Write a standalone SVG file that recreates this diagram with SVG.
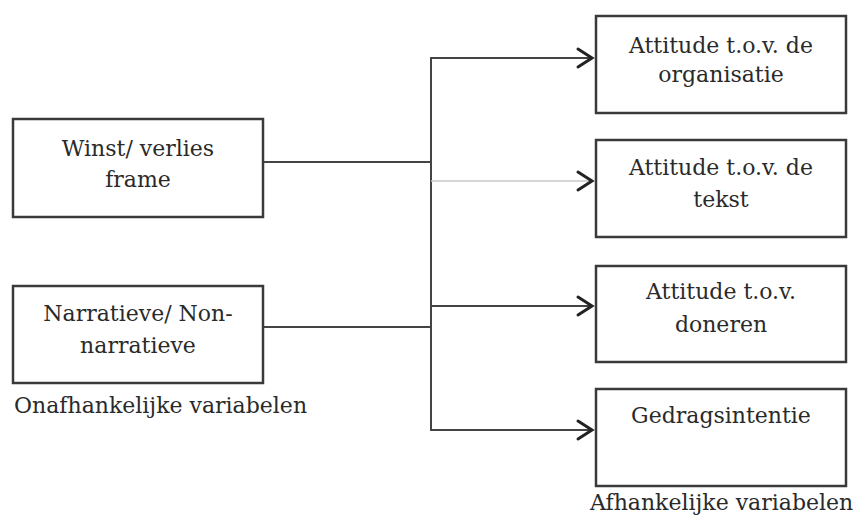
<svg xmlns="http://www.w3.org/2000/svg" width="854" height="515" viewBox="0 0 854 515">
<style>
.box{fill:#fff;stroke:#3a3a3a;stroke-width:2.5}
.t{font-family:"DejaVu Serif","Liberation Serif",serif;font-size:22px;fill:#2a2a2a;text-anchor:middle}
.lbl{font-family:"DejaVu Serif","Liberation Serif",serif;font-size:22px;fill:#2a2a2a}
.ln{fill:none;stroke:#444;stroke-width:2}
.lt{fill:none;stroke:#c8c8c8;stroke-width:1.5}
.ah{fill:none;stroke:#222;stroke-width:3;stroke-linecap:round;stroke-linejoin:miter}
</style>
<rect width="854" height="515" fill="#fff"/>
<g id="connectors">
<line class="ln" x1="263" y1="162" x2="431" y2="162"/>
<line class="ln" x1="263" y1="327" x2="431" y2="327"/>
<line class="ln" x1="431" y1="57" x2="431" y2="431" stroke="#777"/>
<line class="ln" x1="430" y1="58" x2="592" y2="58"/>
<line class="lt" x1="431" y1="181" x2="592" y2="181"/>
<line class="ln" x1="430" y1="306" x2="592" y2="306"/>
<line class="ln" x1="430" y1="430" x2="592" y2="430"/>
<polyline class="ah" points="578,49 592,58 578,67"/>
<polyline class="ah" points="578,172 592,181 578,190"/>
<polyline class="ah" points="578,297 592,306 578,315"/>
<polyline class="ah" points="578,421 592,430 578,439"/>
</g>
<g id="winst">
<rect class="box" x="13" y="119" width="250" height="98"/>
<text class="t" x="138" y="156">Winst/ verlies</text>
<text class="t" x="138" y="187">frame</text>
</g>
<g id="narratieve">
<rect class="box" x="13" y="286" width="250" height="97"/>
<text class="t" x="138" y="321">Narratieve/ Non-</text>
<text class="t" x="138" y="353">narratieve</text>
</g>
<text id="onafhankelijke" class="lbl" x="14" y="413">Onafhankelijke variabelen</text>
<g id="att-organisatie">
<rect class="box" x="596" y="16" width="250" height="97"/>
<text class="t" x="721" y="53">Attitude t.o.v. de</text>
<text class="t" x="721" y="82">organisatie</text>
</g>
<g id="att-tekst">
<rect class="box" x="596" y="140" width="250" height="97"/>
<text class="t" x="721" y="175">Attitude t.o.v. de</text>
<text class="t" x="721" y="207">tekst</text>
</g>
<g id="att-doneren">
<rect class="box" x="596" y="266" width="250" height="96"/>
<text class="t" x="721" y="299">Attitude t.o.v.</text>
<text class="t" x="721" y="332">doneren</text>
</g>
<g id="gedragsintentie">
<rect class="box" x="596" y="389" width="250" height="97"/>
<text class="t" x="721" y="423">Gedragsintentie</text>
</g>
<text id="afhankelijke" class="lbl" x="590" y="510">Afhankelijke variabelen</text>
</svg>
